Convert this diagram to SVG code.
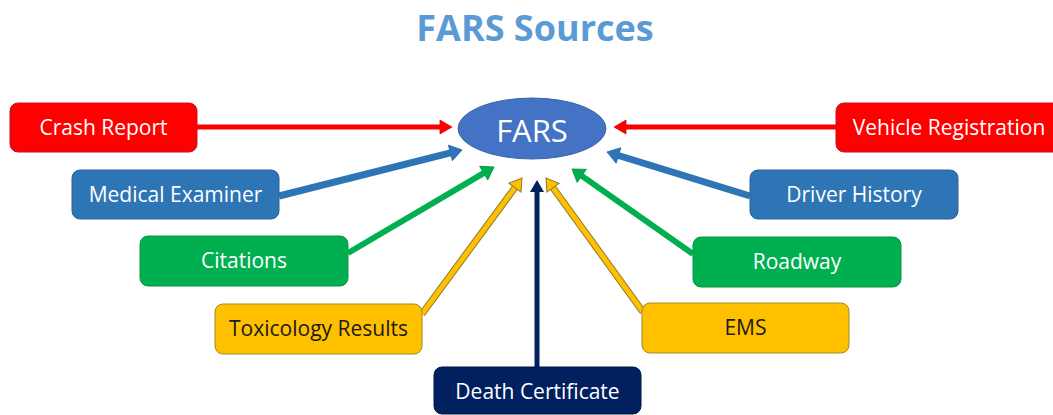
<svg xmlns="http://www.w3.org/2000/svg" width="1053" height="415" viewBox="0 0 1053 415">
  <style>
    .box { stroke-width: 1; }
    .lbl { font-family: "Open Sans", "Liberation Sans", sans-serif; font-size: 21px; text-anchor: middle; }
    .w { fill: #ffffff; }
    .d { fill: #1a1a1a; }
    .red { fill: #ff0000; stroke: #c8102e; }
    .blue { fill: #2e75b6; stroke: #2a62a0; }
    .green { fill: #00b050; stroke: #0a9444; }
    .yellow { fill: #ffc000; stroke: #a08a2a; }
    .navy { fill: #002060; stroke: #001848; }
  </style>
  <defs>
    <marker id="ah-red" markerUnits="userSpaceOnUse" viewBox="0 -8 13 16" refX="0" refY="0" markerWidth="13" markerHeight="16" orient="auto" overflow="visible">
      <path d="M0,-7 L12,0 L0,7 Z" fill="#ff0000" stroke="#d01010" stroke-width="0.8"/>
    </marker>
    <marker id="ah-blue" markerUnits="userSpaceOnUse" viewBox="0 -8 13 16" refX="0" refY="0" markerWidth="13" markerHeight="16" orient="auto" overflow="visible">
      <path d="M0,-8 L12,0 L0,8 Z" fill="#2e75b6" stroke="#2a62a0" stroke-width="0.8"/>
    </marker>
    <marker id="ah-green" markerUnits="userSpaceOnUse" viewBox="0 -8 13 16" refX="0" refY="0" markerWidth="13" markerHeight="16" orient="auto" overflow="visible">
      <path d="M0,-8 L12,0 L0,8 Z" fill="#00b050" stroke="#0a9444" stroke-width="0.8"/>
    </marker>
    <marker id="ah-yellow" markerUnits="userSpaceOnUse" viewBox="0 -8 13 16" refX="0" refY="0" markerWidth="13" markerHeight="16" orient="auto" overflow="visible">
      <path d="M0,-7.5 L12,0 L0,7.5 Z" fill="#ffc000" stroke="#8a7a30" stroke-width="1"/>
    </marker>
    <marker id="ah-navy" markerUnits="userSpaceOnUse" viewBox="0 -8 13 16" refX="0" refY="0" markerWidth="13" markerHeight="16" orient="auto" overflow="visible">
      <path d="M0,-7 L12,0 L0,7 Z" fill="#002060"/>
    </marker>
  </defs>

  <rect width="1053" height="415" fill="#ffffff"/>

  <text x="535" y="41" font-family="'Open Sans', 'Liberation Sans', sans-serif" font-size="36" font-weight="bold" fill="#5b9bd5" text-anchor="middle">FARS Sources</text>

  <!-- connectors: each source points at the FARS hub -->
  <g id="connectors" fill="none">
    <line x1="197" y1="127" x2="440" y2="127" stroke="#ff0000" stroke-width="5" marker-end="url(#ah-red)"/>
    <line x1="836" y1="127" x2="626" y2="127" stroke="#ff0000" stroke-width="5" marker-end="url(#ah-red)"/>
    <line x1="279" y1="196" x2="450.4" y2="152.9" stroke="#2e75b6" stroke-width="7" marker-end="url(#ah-blue)"/>
    <line x1="750" y1="196" x2="618.5" y2="155.5" stroke="#2e75b6" stroke-width="7" marker-end="url(#ah-blue)"/>
    <line x1="348" y1="253" x2="483.7" y2="173.1" stroke="#00b050" stroke-width="6" marker-end="url(#ah-green)"/>
    <line x1="693" y1="254" x2="581.8" y2="175.9" stroke="#00b050" stroke-width="6" marker-end="url(#ah-green)"/>
    <line x1="422" y1="314" x2="514.9" y2="187.7" stroke="#8a7a30" stroke-width="7"/>
    <line x1="422" y1="314" x2="514.9" y2="187.7" stroke="#ffc000" stroke-width="5" marker-end="url(#ah-yellow)"/>
    <line x1="643" y1="312" x2="553.0" y2="187.7" stroke="#8a7a30" stroke-width="7"/>
    <line x1="643" y1="312" x2="553.0" y2="187.7" stroke="#ffc000" stroke-width="5" marker-end="url(#ah-yellow)"/>
    <line x1="537" y1="367" x2="537" y2="192" stroke="#002060" stroke-width="5" marker-end="url(#ah-navy)"/>
  </g>

  <g id="fars">
    <ellipse cx="532" cy="128.5" rx="74" ry="30.5" fill="#4472c4" stroke="#3b64ad" stroke-width="1"/>
    <text x="532" y="142" font-family="'Open Sans', 'Liberation Sans', sans-serif" font-size="31" fill="#ffffff" text-anchor="middle">FARS</text>
  </g>

  <g id="crash-report">
    <rect class="box red" x="10" y="103" width="187" height="49" rx="8"/>
    <text class="lbl w" x="103.5" y="135">Crash Report</text>
  </g>
  <g id="vehicle-registration">
    <rect class="box red" x="836" y="103" width="230" height="49" rx="8"/>
    <text class="lbl w" x="949" y="135">Vehicle Registration</text>
  </g>
  <g id="medical-examiner">
    <rect class="box blue" x="72" y="170" width="207" height="49" rx="8"/>
    <text class="lbl w" x="175.5" y="202">Medical Examiner</text>
  </g>
  <g id="driver-history">
    <rect class="box blue" x="750" y="170" width="208" height="49" rx="8"/>
    <text class="lbl w" x="854" y="202">Driver History</text>
  </g>
  <g id="citations">
    <rect class="box green" x="140" y="236" width="208" height="50" rx="8"/>
    <text class="lbl w" x="244" y="268">Citations</text>
  </g>
  <g id="roadway">
    <rect class="box green" x="693" y="237" width="208" height="50" rx="8"/>
    <text class="lbl w" x="797" y="269">Roadway</text>
  </g>
  <g id="toxicology-results">
    <rect class="box yellow" x="215" y="304" width="207" height="50" rx="8"/>
    <text class="lbl d" x="318.5" y="336">Toxicology Results</text>
  </g>
  <g id="ems">
    <rect class="box yellow" x="642" y="303" width="207" height="50" rx="8"/>
    <text class="lbl d" x="745.5" y="335">EMS</text>
  </g>
  <g id="death-certificate">
    <rect class="box navy" x="434" y="367" width="207" height="47" rx="8"/>
    <text class="lbl w" x="537.5" y="399">Death Certificate</text>
  </g>
</svg>
